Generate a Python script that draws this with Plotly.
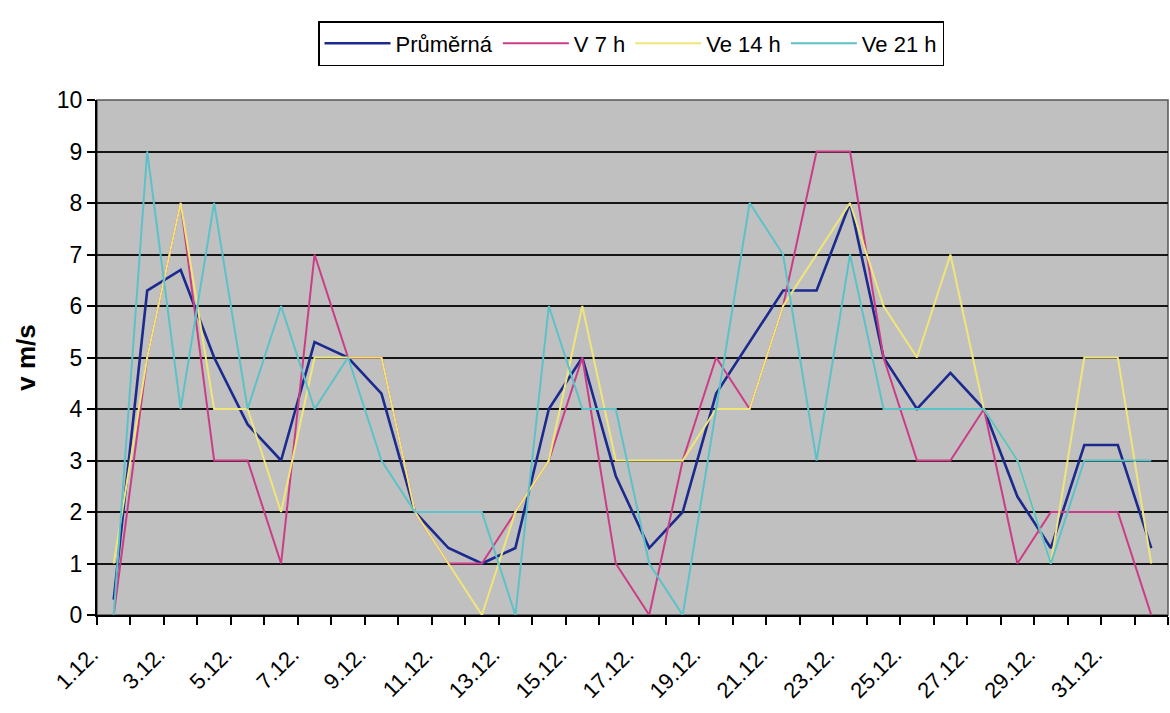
import plotly.graph_objects as go

categories = ["1.12.", "2.12.", "3.12.", "4.12.", "5.12.", "6.12.", "7.12.", "8.12.",
              "9.12.", "10.12.", "11.12.", "12.12.", "13.12.", "14.12.", "15.12.", "16.12.",
              "17.12.", "18.12.", "19.12.", "20.12.", "21.12.", "22.12.", "23.12.", "24.12.",
              "25.12.", "26.12.", "27.12.", "28.12.", "29.12.", "30.12.", "31.12.", ""]

prumerna = [0.3, 6.3, 6.7, 5.0, 3.7, 3.0, 5.3, 5.0, 4.3, 2.0, 1.3, 1.0, 1.3, 4.0, 5.0, 2.7,
            1.3, 2.0, 4.3, 5.3, 6.3, 6.3, 8.0, 5.0, 4.0, 4.7, 4.0, 2.3, 1.3, 3.3, 3.3, 1.3]
v7 = [0, 5, 8, 3, 3, 1, 7, 5, 5, 2, 1, 1, 2, 3, 5, 1,
      0, 3, 5, 4, 6, 9, 9, 5, 3, 3, 4, 1, 2, 2, 2, 0]
v14 = [1, 5, 8, 4, 4, 2, 5, 5, 5, 2, 1, 0, 2, 3, 6, 3,
       3, 3, 4, 4, 6, 7, 8, 6, 5, 7, 4, 3, 1, 5, 5, 1]
v21 = [0, 9, 4, 8, 4, 6, 4, 5, 3, 2, 2, 2, 0, 6, 4, 4,
       1, 0, 4, 8, 7, 3, 7, 4, 4, 4, 4, 3, 1, 3, 3, 3]

series_names = ["Průměrná", "V 7 h", "Ve 14 h", "Ve 21 h"]
y_ticks = list(range(0, 11))

x = list(range(len(categories)))
label_idx = list(range(0, len(categories) - 1, 2))

styles = [("#1b2a8e", 2.6), ("#cc3c86", 2.0), ("#f0e678", 2.0), ("#5cc2c8", 2.0)]

fig = go.Figure()
for name, vals, (col, w) in zip(series_names, [prumerna, v7, v14, v21], styles):
    fig.add_trace(go.Scatter(x=x, y=vals, mode="lines", name=name,
                             line=dict(color=col, width=w)))

font_family = "Liberation Sans, Arial, sans-serif"

fig.update_layout(
    width=1170, height=713,
    margin=dict(l=97, r=2, t=100, b=98, autoexpand=False),
    paper_bgcolor="white",
    plot_bgcolor="#c0c0c0",
    font=dict(family=font_family, color="black"),
    showlegend=True,
    legend=dict(
        orientation="h",
        xref="container", yref="container",
        x=631 / 1170, xanchor="center",
        y=1 - 21 / 713, yanchor="top",
        bordercolor="black", borderwidth=1.5,
        bgcolor="white",
        font=dict(size=22, family=font_family),
        itemwidth=66,
        tracegroupgap=0,
    ),
)

fig.update_xaxes(
    range=[-0.5, len(categories) - 0.5],
    tickmode="array",
    tickvals=label_idx,
    ticktext=[categories[i] for i in label_idx],
    tickangle=-45,
    tickfont=dict(size=22),
    ticks="",
    ticklabelstandoff=16,
    ticklabelshift=-22,
    automargin=False,
    showgrid=False,
    zeroline=False,
    showline=True, linecolor="black", linewidth=2,
    mirror=False,
    minor=dict(tick0=-0.5, dtick=1, ticks="outside", ticklen=8,
               tickcolor="black", tickwidth=2, showgrid=False),
)

fig.update_yaxes(
    range=[0, 10],
    tickmode="array",
    tickvals=y_ticks,
    ticks="outside", ticklen=8, tickwidth=2, tickcolor="black",
    tickfont=dict(size=23),
    automargin=False,
    showgrid=True, gridcolor="#151515", gridwidth=2,
    zeroline=False,
    showline=True, linecolor="black", linewidth=2,
    title=dict(text="<b>v m/s</b>", font=dict(size=26), standoff=14),
)

# thin frame on top/right of the plot area
fig.add_shape(type="rect", xref="paper", yref="paper", x0=0, y0=0, x1=1, y1=1,
              line=dict(color="#555555", width=1.5), layer="below")

fig.write_html("out.html")
